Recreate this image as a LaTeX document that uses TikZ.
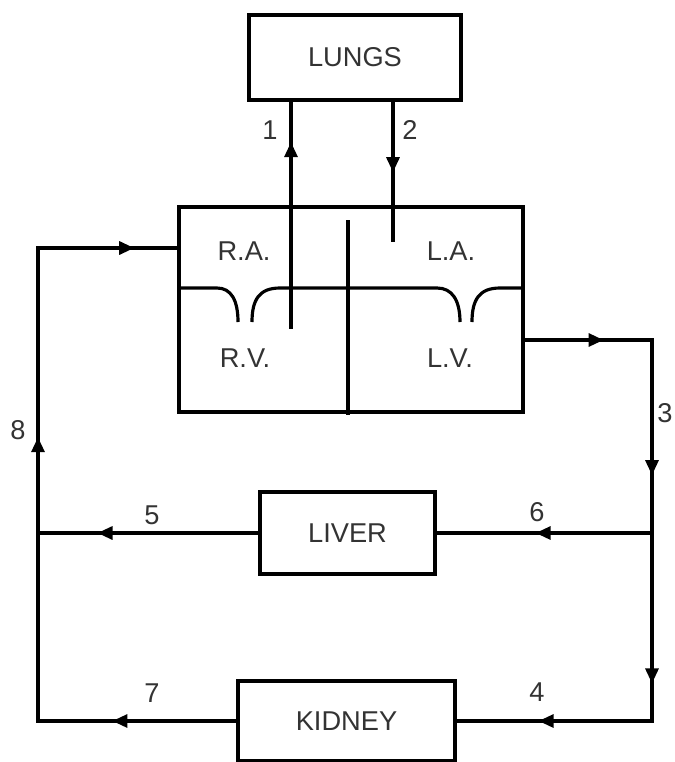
\documentclass[tikz,border=0pt]{standalone}
\usepackage{fontspec}
\setmainfont{Liberation Sans}
\usetikzlibrary{arrows.meta,decorations.markings}
\tikzstyle{organ}=[draw,rectangle,line width=1.8pt,inner sep=0pt,font=\fontsize{15.5}{18}\selectfont,text=black!80]
\tikzstyle{flow}=[line width=1.8pt,line cap=rect]
\tikzstyle{lbl}=[font=\fontsize{15.5}{18}\selectfont,text=black!80,inner sep=0pt]
\tikzset{tipat/.style={postaction={decorate},
  decoration={markings,mark=at position #1 with {\arrow{Triangle[length=0.3cm,width=0.26cm]}}}}}

\begin{document}
\begin{tikzpicture}[x=0.02cm,y=-0.02cm]
  \useasboundingbox (0,0) rectangle (674,762);
  % organs
  \node[organ,minimum width=4.24cm,minimum height=1.7cm] (lungs) at (355,57.5) {LUNGS};
  \node[organ,minimum width=6.88cm,minimum height=4.1cm] (heart) at (351,309.5) {};
  \node[organ,minimum width=3.5cm,minimum height=1.64cm] (liver) at (347.5,533) {LIVER};
  \node[organ,minimum width=4.34cm,minimum height=1.6cm] (kidney) at (346.5,721) {KIDNEY};

  % chambers
  \node[lbl] (ra) at (244,251) {R.A.};
  \node[lbl] (la) at (451,251) {L.A.};
  \node[lbl] (rv) at (245,358) {R.V.};
  \node[lbl] (lv) at (450,358) {L.V.};
  \coordinate (septum) at (348,222);
  \coordinate (rvend) at (291,327);
  \coordinate (laend) at (393,240);
  \draw[flow] (septum) -- (septum |- heart.south);
  \draw[line width=1.8pt] (heart.west |- 0,288) -- (217,288)
    .. controls (231,288) and (238,300) .. (238,322);
  \draw[line width=1.8pt] (252,322) .. controls (252,300) and (259,288) .. (280,288)
    -- (437,288) .. controls (452,288) and (460,300) .. (460,322);
  \draw[line width=1.8pt] (472,322) .. controls (472,300) and (479,288) .. (500,288)
    -- (heart.east |- 0,288);

  % junctions
  \coordinate (tl) at (38,248);
  \coordinate (ml) at (38,533);
  \coordinate (bl) at (38,721);
  \coordinate (tr) at (652,340);
  \coordinate (mr) at (652,533);
  \coordinate (br) at (652,721);

  % vessels
  \draw[flow,tipat=0.82] (rvend) -- (rvend |- lungs.south);
  \draw[flow,tipat=0.51] (laend |- lungs.south) -- (laend);
  \draw[flow,tipat=0.69] (tl) -- (tl -| heart.west);
  \draw[flow,tipat=0.62] (tr -| heart.east) -- (tr);
  \draw[flow,tipat=0.70] (tr) -- (mr);
  \draw[flow,tipat=0.80] (mr) -- (br);
  \draw[flow,tipat=0.54] (mr) -- (liver.east);
  \draw[flow,tipat=0.73] (liver.west) -- (ml);
  \draw[flow,tipat=0.58] (br) -- (kidney.east);
  \draw[flow,tipat=0.625] (kidney.west) -- (bl);
  \draw[flow,tipat=0.60] (bl) -- (tl);

  % numbers
  \node[lbl] (n1) at (270,130) {1};
  \node[lbl] (n2) at (410,130) {2};
  \node[lbl] (n3) at (665,413) {3};
  \node[lbl] (n4) at (537,692) {4};
  \node[lbl] (n5) at (152,515) {5};
  \node[lbl] (n6) at (537,512) {6};
  \node[lbl] (n7) at (152,693) {7};
  \node[lbl] (n8) at (18,430) {8};
\end{tikzpicture}
\end{document}
